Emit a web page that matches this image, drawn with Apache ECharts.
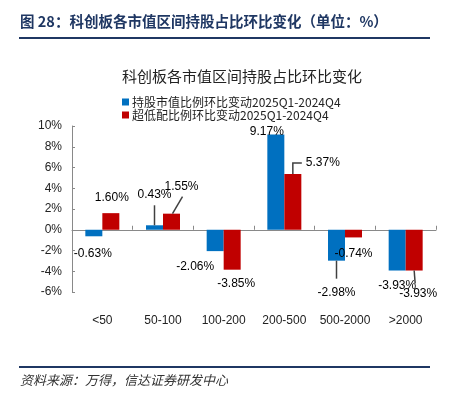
<!DOCTYPE html>
<html><head><meta charset="utf-8">
<script src="https://cdn.jsdelivr.net/npm/echarts@6/dist/echarts.min.js"></script>
<style>html,body{margin:0;padding:0;background:#fff}#c{width:453px;height:394px}</style>
</head><body><div id="c"></div>
<script>
const categories = ['<50', '50-100', '100-200', '200-500', '500-2000', '>2000'];
const holdChange = [-0.63, 0.43, -2.06, 9.17, -2.98, -3.93];
const overweightChange = [1.60, 1.55, -3.85, 5.37, -0.74, -3.93];
const seriesNames = ['持股市值比例环比变动2025Q1-2024Q4', '超低配比例环比变动2025Q1-2024Q4'];
const yTicks = {min: -6, max: 10, interval: 2};

// label shifts (layout only)
const blueShift = [[-1, 6], [0, -20], [-20, 5], [-9, 8], [0, 21], [0, 4]];
const redShift = [[1, -4], [10, -16], [4, 3], [30, 0], [0, 5], [4, 12]];
// leader line shapes (pixel offsets from bar end), null = no leader
const blueLeader = [null, [[0, 0], [0, -20]], null, null, [[0, 0], [0, 18]], null];
const redLeader = [null, [[1, 0], [11, -17]], null, [[0, 0], [0, -11], [9, -11]], null, [[0, 0], [1, 13]]];

const BAR_W = 17;
const chart = echarts.init(document.getElementById('c'));
const fmt = p => p.value.toFixed(2) + '%';
function mk(vals) {
  return vals.map(v => ({value: v, label: {position: v >= 0 ? 'top' : 'bottom'}}));
}
const leaderData = [];
holdChange.forEach((v, i) => { if (blueLeader[i]) leaderData.push([i, v, 0]); });
overweightChange.forEach((v, i) => { if (redLeader[i]) leaderData.push([i, v, 1]); });

const labelStyle = {show: true, formatter: fmt, fontSize: 12, color: '#000', fontFamily: 'Liberation Sans, Arial', distance: 5};
chart.setOption({
  animation: false,
  backgroundColor: '#fff',
  title: {
    text: '科创板各市值区间持股占比环比变化',
    left: 117, top: 64,
    textStyle: {fontSize: 15, fontWeight: 'normal', color: '#222', fontFamily: 'Noto Sans CJK SC'}
  },
  legend: {
    orient: 'vertical', left: 117, top: 91, itemGap: 1,
    itemWidth: 7, itemHeight: 7, icon: 'rect',
    textStyle: {fontSize: 12, color: '#222', fontFamily: 'Noto Sans CJK SC', lineHeight: 12, padding: [0, 0, 0, -2]},
    data: seriesNames
  },
  grid: {left: 72, right: 17, top: 126, bottom: 102},
  xAxis: [{
    type: 'category', data: categories, position: 'bottom',
    axisLine: {show: false, onZero: false}, axisTick: {show: false},
    axisLabel: {interval: 0, fontSize: 12, color: '#222', margin: 23, fontFamily: 'Liberation Sans, Arial'}
  }, {
    type: 'category', data: categories, position: 'bottom',
    axisLine: {show: true, onZero: true, lineStyle: {color: '#898989', width: 1}},
    axisTick: {show: true, interval: 0, inside: true, length: 4, lineStyle: {color: '#898989'}},
    axisLabel: {show: false}
  }],
  yAxis: {
    type: 'value', min: yTicks.min, max: yTicks.max, interval: yTicks.interval,
    axisLine: {show: true, lineStyle: {color: '#898989'}},
    axisTick: {show: true, inside: true, length: 3, lineStyle: {color: '#898989'}},
    splitLine: {show: false},
    axisLabel: {formatter: '{value}%', fontSize: 12, color: '#222', margin: 10, fontFamily: 'Liberation Sans, Arial'}
  },
  series: [{
    name: seriesNames[0], type: 'bar', xAxisIndex: 0, barWidth: BAR_W, barGap: '0%',
    itemStyle: {color: '#0070C0'},
    label: labelStyle,
    labelLayout: p => ({dx: blueShift[p.dataIndex][0], dy: blueShift[p.dataIndex][1]}),
    data: mk(holdChange)
  }, {
    name: seriesNames[1], type: 'bar', xAxisIndex: 0, barWidth: BAR_W, barGap: '0%',
    itemStyle: {color: '#C00000'},
    label: labelStyle,
    labelLayout: p => ({dx: redShift[p.dataIndex][0], dy: redShift[p.dataIndex][1]}),
    data: mk(overweightChange)
  }, {
    type: 'custom', xAxisIndex: 0, silent: true, z: 5,
    data: leaderData,
    renderItem: (params, api) => {
      const i = api.value(0), s = api.value(2);
      const p = api.coord([i, api.value(1)]);
      const cx = p[0] + (s === 0 ? -BAR_W / 2 : BAR_W / 2);
      const shape = (s === 0 ? blueLeader : redLeader)[i];
      return {
        type: 'polyline',
        shape: {points: shape.map(q => [cx + q[0], p[1] + q[1]])},
        style: {stroke: '#404040', lineWidth: 1.5, fill: null}
      };
    }
  }],
  graphic: [
    {type: 'text', left: 20, top: 14, style: {text: '图 28：科创板各市值区间持股占比环比变化（单位：%）', fontSize: 14.5, fontWeight: 'bold', fill: '#1F3763', fontFamily: 'Noto Sans CJK SC'}},
    {type: 'rect', shape: {x: 19, y: 37, width: 411, height: 2}, style: {fill: '#1F3763'}},
    {type: 'rect', shape: {x: 19, y: 366, width: 411, height: 2}, style: {fill: '#1F3763'}},
    {type: 'text', left: 20, top: 374, style: {text: '资料来源：万得，信达证券研发中心', fontSize: 13, fontStyle: 'italic', fill: '#333', fontFamily: 'Noto Sans CJK SC'}}
  ]
});
</script></body></html>
